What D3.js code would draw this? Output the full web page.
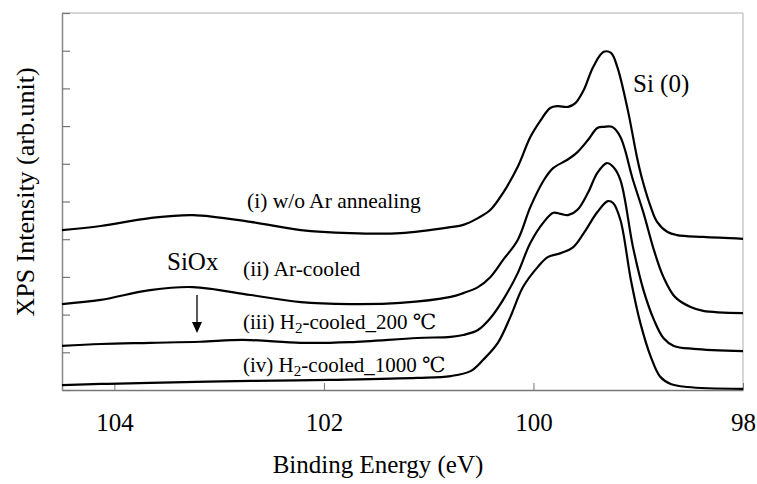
<!DOCTYPE html>
<html>
<head>
<meta charset="utf-8">
<script src="https://cdn.jsdelivr.net/npm/d3@7"></script>
<style>
  html, body { margin: 0; padding: 0; background: #fff; }
  svg { display: block; }
  svg text { font-family: "Times New Roman", Times, "Liberation Serif", "DejaVu Serif", serif !important; fill: #000; }
</style>
</head>
<body>
<svg id="chart" width="757" height="484"></svg>
<script>
// ---- data ----
const xTicks = [104, 102, 100, 98];
const yTicks = [0, 1, 2, 3, 4, 5, 6, 7, 8, 9, 10];

const energyI = [104.50,104.13,103.66,103.25,102.70,102.22,101.75,101.27,100.79,100.67,100.53,100.41,100.29,100.15,100.03,99.93,99.84,99.77,99.67,99.60,99.52,99.43,99.33,99.26,99.20,99.10,99.01,98.96,98.88,98.82,98.72,98.63,98.38,98.00];
const intensityI = [4.24,4.35,4.56,4.64,4.46,4.24,4.16,4.16,4.32,4.38,4.56,4.78,5.23,5.92,6.71,7.16,7.48,7.53,7.51,7.61,7.96,8.57,8.97,8.94,8.57,7.43,6.15,5.57,4.85,4.46,4.19,4.11,4.06,4.01];

const energyII = [104.50,104.13,103.66,103.25,102.70,102.22,101.75,101.27,100.79,100.67,100.53,100.41,100.29,100.15,100.03,99.90,99.81,99.68,99.58,99.48,99.39,99.33,99.25,99.17,99.05,98.95,98.85,98.76,98.65,98.50,98.38,98.00];
const intensityII = [2.28,2.39,2.65,2.73,2.52,2.33,2.28,2.31,2.47,2.57,2.73,3.00,3.45,3.98,4.85,5.57,5.89,6.10,6.31,6.63,6.95,6.98,6.98,6.71,5.57,4.70,3.71,3.00,2.47,2.20,2.10,2.04];

const energyIII = [104.50,104.13,103.66,103.18,102.77,102.22,101.75,101.11,100.79,100.67,100.53,100.41,100.29,100.15,100.03,99.90,99.81,99.74,99.67,99.58,99.48,99.39,99.30,99.24,99.17,99.05,98.95,98.85,98.76,98.66,98.47,98.00];
const intensityIII = [1.17,1.22,1.25,1.28,1.33,1.25,1.27,1.38,1.41,1.46,1.59,1.91,2.39,3.10,3.90,4.46,4.70,4.67,4.64,4.78,5.23,5.76,6.02,5.92,5.57,3.79,2.65,1.86,1.38,1.17,1.09,1.03];

const energyIV = [104.50,104.13,103.66,102.70,101.94,101.11,100.79,100.60,100.48,100.34,100.22,100.10,99.96,99.86,99.74,99.62,99.52,99.39,99.29,99.24,99.17,99.07,98.98,98.88,98.79,98.69,98.53,98.00];
const intensityIV = [0.13,0.16,0.19,0.24,0.27,0.32,0.37,0.50,0.80,1.25,1.94,2.73,3.26,3.53,3.63,3.79,4.16,4.72,5.01,4.96,4.51,2.92,1.78,0.88,0.35,0.16,0.08,0.03];

const FONT = '"Times New Roman", Times, "Liberation Serif", "DejaVu Serif", serif';

// ---- layout ----
const W = 757, H = 484;
const margin = { left: 62, top: 13, right: 14, bottom: 94 };
const iw = W - margin.left - margin.right;
const ih = H - margin.top - margin.bottom;

const svg = d3.select("#chart").attr("font-family", FONT);
const g = svg.append("g").attr("transform", `translate(${margin.left},${margin.top})`);

const x = d3.scaleLinear().domain([104.5, 98]).range([0, iw]);
const y = d3.scaleLinear().domain([0, 10]).range([ih, 0]);

// frame: top/right light border
g.append("line").attr("x1", 0).attr("x2", iw).attr("y1", 0).attr("y2", 0)
  .attr("stroke", "#c8c8c8").attr("stroke-width", 1.5);
g.append("line").attr("x1", iw).attr("x2", iw).attr("y1", 0).attr("y2", ih)
  .attr("stroke", "#c8c8c8").attr("stroke-width", 1.5);

// axes
const xAxis = d3.axisBottom(x).tickValues(xTicks).tickSizeInner(-7).tickSizeOuter(0)
  .tickFormat(d3.format("d")).tickPadding(23);
const gx = g.append("g").attr("transform", `translate(0,${ih})`).call(xAxis)
  .attr("font-family", FONT);
gx.select(".domain").attr("stroke", "#777").attr("stroke-width", 1.5);
gx.selectAll(".tick line").attr("stroke", "#777").attr("stroke-width", 1);
gx.selectAll(".tick text").attr("font-size", 25).attr("font-family", FONT).attr("fill", "#000");

const yAxis = d3.axisLeft(y).tickValues(yTicks).tickSizeInner(-8).tickSizeOuter(0).tickFormat("");
const gy = g.append("g").call(yAxis);
gy.select(".domain").attr("stroke", "#888").attr("stroke-width", 1.5);
gy.selectAll(".tick line").attr("stroke", "#777").attr("stroke-width", 1.2);

// curves
const series = [
  { e: energyI, v: intensityI },
  { e: energyII, v: intensityII },
  { e: energyIII, v: intensityIII },
  { e: energyIV, v: intensityIV }
];
const line = d3.line().x(d => x(d[0])).y(d => y(d[1])).curve(d3.curveCatmullRom.alpha(0.5));
series.forEach(s => {
  const pts = s.e.map((e, i) => [e, s.v[i]]);
  g.append("path").datum(pts).attr("d", line)
    .attr("fill", "none").attr("stroke", "#000").attr("stroke-width", 2.2)
    .attr("stroke-linejoin", "round");
});

// axis titles
svg.append("text").attr("x", 378).attr("y", 473).attr("font-family", FONT)
  .attr("text-anchor", "middle").attr("font-size", 25).text("Binding Energy (eV)");
svg.append("text").attr("transform", "translate(34,192) rotate(-90)").attr("font-family", FONT)
  .attr("text-anchor", "middle").attr("font-size", 26).text("XPS Intensity (arb.unit)");

// annotations
function label(px, py, size, parts) {
  const t = svg.append("text").attr("x", px).attr("y", py).attr("font-size", size)
    .attr("font-family", FONT);
  parts.forEach(p => {
    const ts = t.append("tspan").text(p.t);
    if (p.sub) ts.attr("font-size", size * 0.72).attr("dy", 4);
    if (p.back) ts.attr("dy", -4);
  });
}
label(247, 208, 21.5, [{ t: "(i) w/o Ar annealing" }]);
label(243, 276, 21.5, [{ t: "(ii) Ar-cooled" }]);
label(243, 329, 21, [{ t: "(iii) H" }, { t: "2", sub: true }, { t: "-cooled_200 ℃", back: true }]);
label(243, 372, 21, [{ t: "(iv) H" }, { t: "2", sub: true }, { t: "-cooled_1000 ℃", back: true }]);
label(167, 270, 25, [{ t: "SiOx" }]);
label(633, 92, 25, [{ t: "Si (0)" }]);

// arrow
svg.append("line").attr("x1", 197).attr("x2", 197).attr("y1", 295).attr("y2", 324)
  .attr("stroke", "#000").attr("stroke-width", 1.3);
svg.append("path").attr("d", "M192,322 L202,322 L197,333 Z").attr("fill", "#000");
</script>
</body>
</html>
